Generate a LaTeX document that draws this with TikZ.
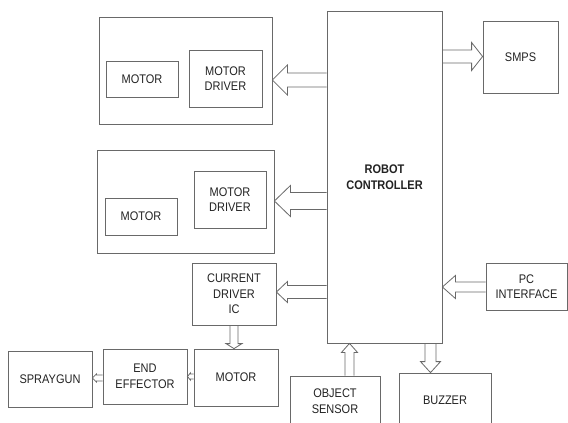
\documentclass[tikz,border=0pt]{standalone}
\usepackage{fontspec}
\setmainfont{Liberation Sans}[FakeStretch=0.88]
\usetikzlibrary{calc}
\definecolor{lc}{RGB}{105,105,105}
\definecolor{tc}{RGB}{35,35,35}
\tikzset{
  box/.style={draw=lc,line width=0.8pt,inner sep=0pt,align=center,text=tc,
    font=\fontsize{12.5}{15.5}\selectfont},
  blk/.style={draw=lc,line width=0.8pt,line join=miter}
}
% horizontal hollow block arrow: #1 tail anchor, #2 tip anchor, #3 y, #4 shaft half, #5 head half, #6 signed head length (+ = pointing right)
\newcommand\harr[6]{%
  \draw[blk] let \p1=(#1 |- 0,#3), \p2=(#2 |- 0,#3) in
    (\x1,{\y1+#4pt}) -- ({\x2-(#6pt)},{\y1+#4pt}) -- ({\x2-(#6pt)},{\y1+#5pt}) -- (\x2,\y1)
    -- ({\x2-(#6pt)},{\y1-#5pt}) -- ({\x2-(#6pt)},{\y1-#4pt}) -- (\x1,{\y1-#4pt});}
% vertical hollow block arrow: #6 signed head length (+ = pointing down)
\newcommand\varr[6]{%
  \draw[blk] let \p1=(#3,0 |- #1), \p2=(#3,0 |- #2) in
    ({\x1+#4pt},\y1) -- ({\x1+#4pt},{\y2+(#6pt)}) -- ({\x1+#5pt},{\y2+(#6pt)}) -- (\x1,\y2)
    -- ({\x1-#5pt},{\y2+(#6pt)}) -- ({\x1-#4pt},{\y2+(#6pt)}) -- ({\x1-#4pt},\y1);}
\begin{document}
\begin{tikzpicture}[x=1pt,y=-1pt]
\fill[white] (0,0) rectangle (568,423);
\clip (0,0) rectangle (568,423);
% controller
\node[box,minimum width=115pt,minimum height=332pt] (ctrl) at (384.5,177) {\textbf{ROBOT}\\\textbf{CONTROLLER}};
\node[box,minimum width=75pt,minimum height=72pt] (smps) at (520.5,57) {SMPS};
% first motor group
\node[box,minimum width=173pt,minimum height=107pt] (g1) at (185.5,70.5) {};
\node[box,minimum width=72pt,minimum height=36pt] (m1) at (142,79) {MOTOR};
\node[box,minimum width=73pt,minimum height=57pt] (d1) at (225.5,78.5) {MOTOR\\DRIVER};
% second motor group
\node[box,minimum width=177pt,minimum height=103pt] (g2) at (185.5,201.5) {};
\node[box,minimum width=72pt,minimum height=37pt] (m2) at (141,216.5) {MOTOR};
\node[box,minimum width=72pt,minimum height=57pt] (d2) at (230,199.5) {MOTOR\\DRIVER};
% current driver chain
\node[box,minimum width=84pt,minimum height=62pt] (ic) at (234,294) {CURRENT\\DRIVER\\IC};
\node[box,minimum width=84pt,minimum height=57pt] (m3) at (236,377.5) {MOTOR};
\node[box,minimum width=84pt,minimum height=55pt] (ee) at (145,376.5) {END\\EFFECTOR};
\node[box,minimum width=84pt,minimum height=56pt] (sg) at (50,379) {SPRAYGUN};
% others
\node[box,minimum width=81pt,minimum height=47pt] (pc) at (526.5,286.5) {PC\\INTERFACE};
\node[box,minimum width=90pt,minimum height=50pt] (os) at (335,401) {OBJECT\\SENSOR};
\node[box,minimum width=92pt,minimum height=54pt] (bz) at (445,400) {BUZZER};
% arrows
\harr{ctrl.west}{g1.east}{80}{7}{15}{-15}
\harr{ctrl.east}{smps.west}{56.5}{6.5}{14}{11}
\harr{ctrl.west}{g2.east}{201}{8.5}{15.5}{-16}
\harr{ctrl.west}{ic.east}{292}{6.5}{10.5}{-11}
\harr{pc.west}{ctrl.east}{287}{5}{11.5}{-13}
\varr{os.north}{ctrl.south}{349.5}{4.5}{8}{-9}
\varr{ctrl.south}{bz.north}{430.5}{5.5}{10}{11}
\varr{ic.south}{m3.north}{234}{4}{8}{5}
\harr{m3.west}{ee.east}{376.5}{2.5}{3.5}{-3}
\harr{ee.west}{sg.east}{378}{3}{4}{-4}
\end{tikzpicture}
\end{document}
